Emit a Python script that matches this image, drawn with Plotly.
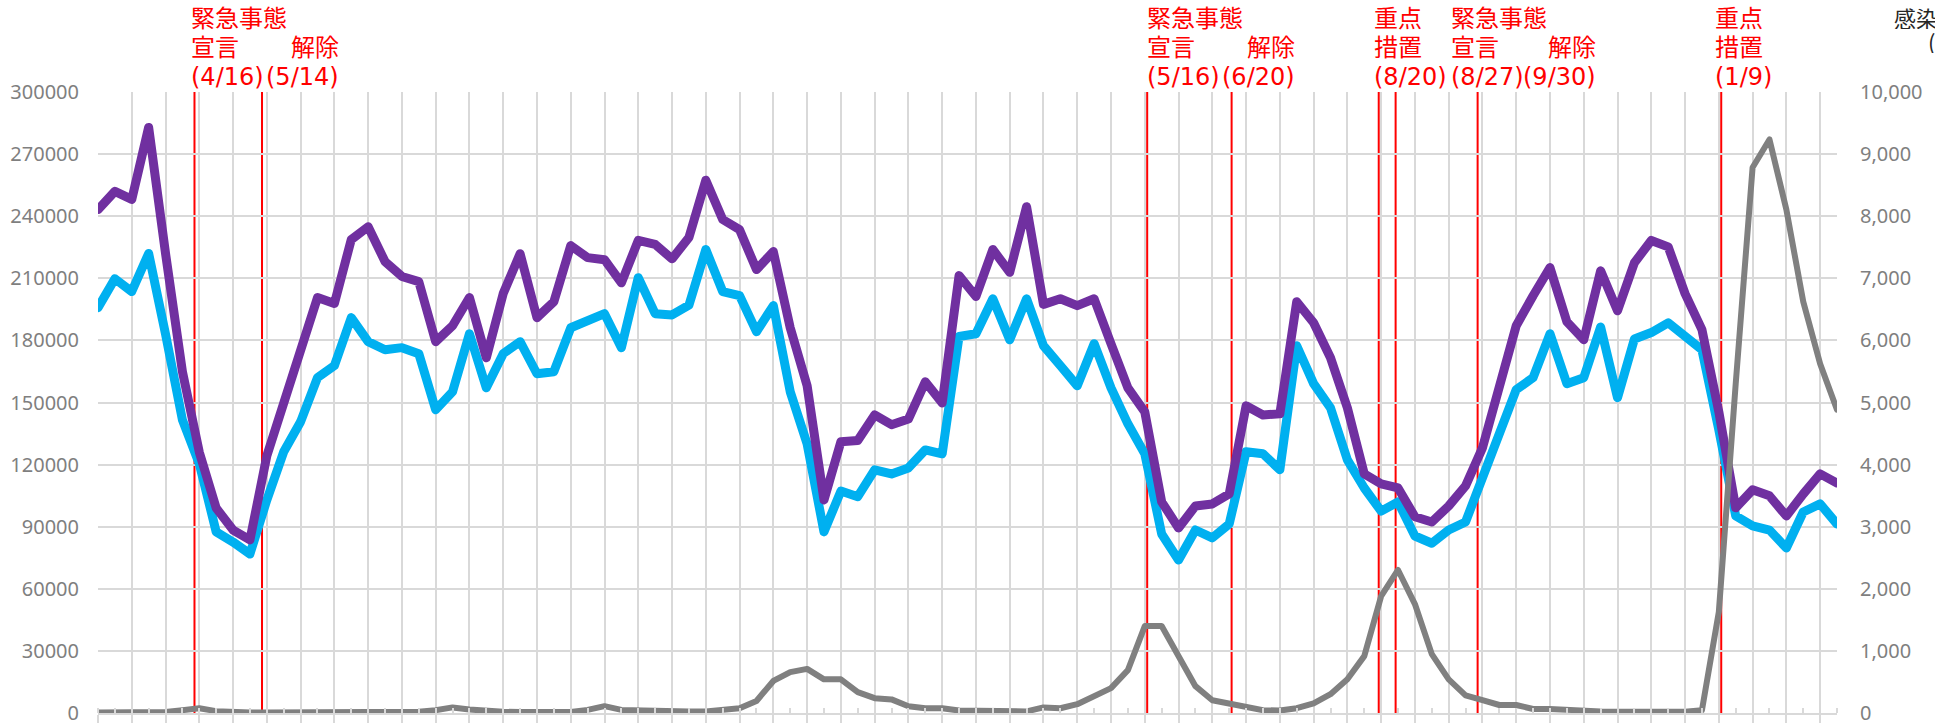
import pandas as pd
import plotly.graph_objects as go

# ---------------- data ----------------
start_date = "2020-03-07"          # first weekly point
n_weeks = 104

purple_vals = [243200, 252000, 248100, 282900, 222000, 164900, 126000, 99000, 88400, 83600,
               124200, 149400, 173600, 200700, 197800, 228700, 234900, 218100, 210900, 208400,
               179400, 187100, 200700, 171600, 202600, 221900, 191000, 198700, 225800, 220000,
               219000, 207800, 228300, 226400, 219400, 229700, 257400, 238400, 233500, 214200,
               222900, 186100, 158100, 102900, 131000, 131600, 144000, 139300, 142000, 160000,
               149800, 211300, 201200, 223900, 212900, 244600, 197400, 200100, 196800, 200100,
               178400, 157100, 145500, 102000, 89400, 100000, 101000, 105800, 148400, 144000,
               144500, 198700, 188500, 171600, 147400, 115500, 110700, 108700, 94800, 92300,
               100000, 109700, 128100, 159100, 187100, 201600, 215200, 189000, 180300, 213600,
               194300, 217500, 228300, 225200, 202600, 185200, 145500, 99100, 107800, 104900,
               95200, 105800, 115500, 111100]

blue_vals = [195800, 209800, 203600, 222000, 183000, 141600, 120400, 87500, 82600, 76800,
             102900, 126200, 140700, 162000, 167800, 191000, 179400, 175500, 176500, 173600,
             146500, 155200, 183200, 157100, 173600, 179400, 163900, 164900, 186100, 190000,
             192900, 176500, 210300, 192900, 192300, 197000, 223900, 203600, 201600, 184200,
             196800, 155200, 130000, 87500, 107200, 104500, 117500, 115500, 118400, 127100,
             125200, 181900, 183200, 200100, 180300, 200100, 177400, 167800, 158100, 178400,
             157100, 139700, 125200, 86500, 73900, 88400, 84600, 91300, 126200, 125200,
             117500, 177400, 159100, 147400, 122300, 108700, 97500, 102000, 85500, 82000,
             88400, 92300, 113600, 132000, 156200, 162000, 183200, 159100, 162000, 186500,
             152300, 180700, 183800, 188500, 181300, 175500, 136800, 95200, 90400, 88400,
             79700, 97100, 101000, 91300]

cases_vals = [10, 10, 10, 10, 15, 45, 77, 30, 15, 10,
              10, 10, 10, 10, 10, 10, 10, 10, 12, 20,
              45, 90, 55, 30, 20, 15, 15, 15, 15, 50,
              110, 50, 40, 30, 25, 25, 26, 45, 77, 194,
              516, 658, 710, 542, 542, 335, 239, 219, 110, 77,
              77, 39, 32, 26, 26, 26, 90, 77, 142, 271,
              400, 690, 1400, 1400, 916, 432, 206, 155, 90, 45,
              39, 77, 155, 303, 542, 916, 1883, 2303, 1754, 948,
              542, 284, 206, 129, 129, 65, 65, 45, 45, 26,
              20, 20, 20, 20, 20, 45, 1625, 5300, 8785, 9236,
              8108, 6624, 5624, 4883]

event_dates = ["2020-04-16", "2020-05-14", "2021-05-16", "2021-06-20",
               "2021-08-20", "2021-08-27", "2021-09-30", "2022-01-09"]
event_labels = [["緊急事態", "宣言", "(4/16)"],
                ["解除", "(5/14)"],
                ["緊急事態", "宣言", "(5/16)"],
                ["解除", "(6/20)"],
                ["重点", "措置", "(8/20)"],
                ["緊急事態", "宣言", "(8/27)"],
                ["解除", "(9/30)"],
                ["重点", "措置", "(1/9)"]]

left_ticks = list(range(0, 300001, 30000))
right_ticks = list(range(0, 10001, 1000))
right_title_lines = ["感染者数", "(人)"]

# ---------------- styling (positions only) ----------------
# (xanchor, pixel shift from event line)
label_place = [("left", -5), ("right", 79), ("left", -2), ("right", 65),
               ("left", -7), ("left", 53), ("right", 120), ("left", -8)]
row_shift = {3: [73, 44.5, 15], 2: [44.5, 15]}

dates = pd.date_range(start_date, periods=n_weeks, freq="7D")
week_ms = 7 * 24 * 3600 * 1000

fig = go.Figure()
fig.add_trace(go.Scatter(x=dates, y=blue_vals, mode="lines", name="系列2",
                         line=dict(color="#00B0F0", width=9)))
fig.add_trace(go.Scatter(x=dates, y=purple_vals, mode="lines", name="系列1",
                         line=dict(color="#7030A0", width=9)))
fig.add_trace(go.Scatter(x=dates, y=cases_vals, mode="lines", name="感染者数",
                         yaxis="y2", line=dict(color="#808080", width=6)))

shapes = []
for d in event_dates:
    shapes.append(dict(type="line", xref="x", yref="paper", x0=d, x1=d, y0=0, y1=1,
                       line=dict(color="#FF0000", width=2), layer="between"))

annotations = []
lab_font = dict(family="DejaVu Sans, Noto Sans CJK JP", size=24, color="#FF0000")
for d, lines, (anc, sh) in zip(event_dates, event_labels, label_place):
    ys = row_shift[len(lines)]
    for txt, ysh in zip(lines, ys):
        annotations.append(dict(x=d, xref="x", y=1, yref="paper", text=txt,
                                showarrow=False, xanchor=anc, yanchor="middle",
                                xshift=sh, yshift=ysh, font=lab_font))

title_font = dict(family="Noto Sans CJK JP", size=22, color="#262626")
annotations.append(dict(x=1, xref="paper", y=1, yref="paper", text=right_title_lines[0],
                        showarrow=False, xanchor="left", yanchor="middle",
                        xshift=56, yshift=75, font=title_font,
                        height=24, borderpad=0))
annotations.append(dict(x=1, xref="paper", y=1, yref="paper", text=right_title_lines[1],
                        showarrow=False, xanchor="left", yanchor="middle",
                        xshift=90, yshift=51, font=title_font,
                        height=24, borderpad=0))

grid_col = "#D9D9D9"
tick_font = dict(family="Noto Sans", size=20, color="#7F7F7F")

fig.update_layout(
    width=1935, height=728,
    margin=dict(l=98, r=98, t=92, b=15, autoexpand=False),
    paper_bgcolor="white", plot_bgcolor="white",
    showlegend=False,
    shapes=shapes, annotations=annotations,
    xaxis=dict(type="date", range=[dates[0], dates[-1]],
               tick0=dates[0], dtick=2 * week_ms,
               showgrid=True, gridcolor=grid_col, gridwidth=2,
               showticklabels=False, ticks="outside", ticklen=8, tickwidth=2,
               tickcolor=grid_col,
               minor=dict(dtick=week_ms, tick0=dates[0], ticks="inside", ticklen=5,
                          tickwidth=2, tickcolor=grid_col, showgrid=False),
               showline=True, linecolor=grid_col, linewidth=2, zeroline=False),
    yaxis=dict(range=[0, 300000], tickvals=left_ticks, tickformat="d",
               showgrid=True, gridcolor=grid_col, gridwidth=2, zeroline=False,
               showline=False, tickfont=tick_font, ticks="", ticklabelstandoff=18,
               automargin=False),
    yaxis2=dict(range=[0, 10000], tickvals=right_ticks, tickformat=",d",
                overlaying="y", side="right", showgrid=False, zeroline=False,
                showline=False, tickfont=tick_font, ticks="", ticklabelstandoff=22,
                automargin=False),
)

post = """
document.body.style.margin = '0';
document.body.style.overflow = 'hidden';
var gd = document.getElementById('{plot_id}');
function rj(){
  gd.querySelectorAll('.scatterlayer .js-line').forEach(function(p){
    p.style.strokeLinejoin = 'round'; p.style.strokeLinecap = 'round';
  });
}
rj();
gd.on('plotly_afterplot', rj);
"""
fig.write_html("out.html", post_script=post,
               config={"displayModeBar": False, "staticPlot": True})
